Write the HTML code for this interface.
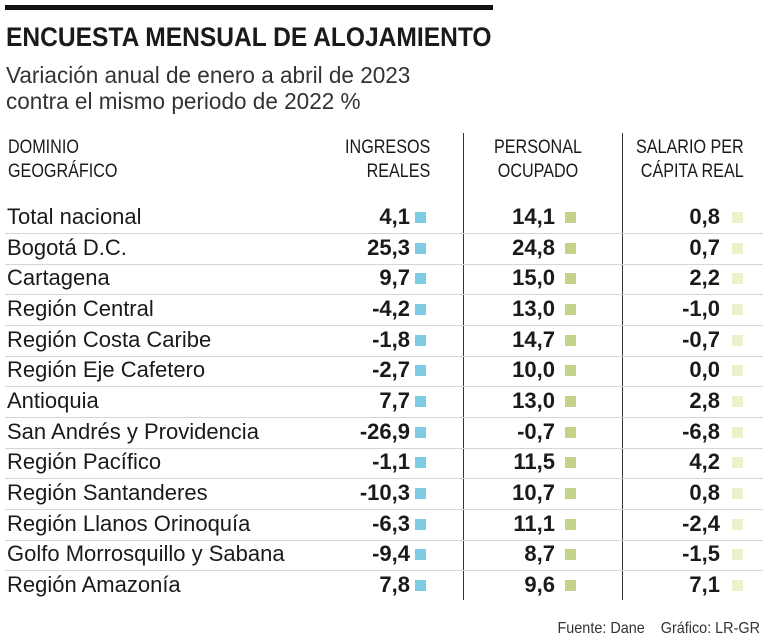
<!DOCTYPE html>
<html><head><meta charset="utf-8"><style>
body{margin:0;width:768px;height:640px;background:#fff;position:relative;overflow:hidden;font-family:"Liberation Sans",sans-serif;color:#1a1a1a}
.a{position:absolute;white-space:nowrap}
.hdr{font-family:"Liberation Sans Narrow","Liberation Sans",sans-serif;font-size:19px;line-height:24px;transform:scaleX(0.85)}
.lbl{font-size:22px;transform:scaleX(1.0);transform-origin:left center;font-weight:300}
.num{font-size:22px;font-weight:bold;text-align:right;width:80px}
.sq{width:11px;height:11px}
.sep{height:1px;background:#d6d6d6}
</style></head><body>
<div class="a" style="left:5px;top:5px;width:488px;height:5px;background:#111"></div>
<div class="a" style="left:6px;top:22px;font-size:27px;font-weight:bold;transform:scaleX(0.91);transform-origin:left">ENCUESTA MENSUAL DE ALOJAMIENTO</div>
<div class="a" style="left:6px;top:62px;font-size:23px;line-height:26px;color:#333;transform:scaleX(0.98);transform-origin:left">Variación anual de enero a abril de 2023<br>contra el mismo periodo de 2022 %</div>
<div class="a hdr" style="left:8px;top:136px;transform-origin:left">DOMINIO<br>GEOGRÁFICO</div>
<div class="a hdr" style="right:338px;top:136px;text-align:right;transform-origin:right">INGRESOS<br>REALES</div>
<div class="a hdr" style="left:478px;top:136px;width:120px;text-align:center;transform-origin:center">PERSONAL<br>OCUPADO</div>
<div class="a hdr" style="right:24px;top:136px;text-align:right;transform-origin:right">SALARIO PER<br>CÁPITA REAL</div>
<div class="a" style="left:463px;top:133px;width:1px;height:467px;background:#333"></div>
<div class="a" style="left:622px;top:133px;width:1px;height:467px;background:#333"></div>
<div id="rows"></div>
<div class="a" style="right:8px;top:620px;font-size:16px;color:#333;transform:scaleX(0.9);transform-origin:right">Fuente: Dane &nbsp;&nbsp; Gráfico: LR-GR</div>
<script>
const regions=["Total nacional","Bogotá D.C.","Cartagena","Región Central","Región Costa Caribe","Región Eje Cafetero","Antioquia","San Andrés y Providencia","Región Pacífico","Región Santanderes","Región Llanos Orinoquía","Golfo Morrosquillo y Sabana","Región Amazonía"];
const ingresos=["4,1","25,3","9,7","-4,2","-1,8","-2,7","7,7","-26,9","-1,1","-10,3","-6,3","-9,4","7,8"];
const personal=["14,1","24,8","15,0","13,0","14,7","10,0","13,0","-0,7","11,5","10,7","11,1","8,7","9,6"];
const salario=["0,8","0,7","2,2","-1,0","-0,7","0,0","2,8","-6,8","4,2","0,8","-2,4","-1,5","7,1"];
const cols=[{v:ingresos,r:410,sq:415,c:"#7ecbe3",n:"ingresos"},{v:personal,r:555,sq:565,c:"#c3d48a",n:"personal"},{v:salario,r:720,sq:732,c:"#eef0cc",n:"salario"}];
const box=document.getElementById('rows');
const y0=217,pitch=30.67;
regions.forEach((r,i)=>{
  const cy=y0+i*pitch;
  const l=document.createElement('div');
  l.className='a lbl';l.textContent=r;l.style.left='7px';l.style.top=(cy-13)+'px';
  
  
  box.appendChild(l);
  cols.forEach(c=>{
    const n=document.createElement('div');
    n.className='a num';n.textContent=c.v[i];n.style.left=(c.r-80)+'px';n.style.top=(cy-13)+'px';
    
    
    box.appendChild(n);
    const s=document.createElement('div');
    s.className='a sq';s.style.left=c.sq+'px';s.style.top=(cy-5)+'px';s.style.background=c.c;
    
    
    box.appendChild(s);
  });
  if(i<regions.length-1){
    const sp=document.createElement('div');
    sp.className='a sep';sp.style.left='5px';sp.style.width='758px';sp.style.top=Math.round(cy+16)+'px';
    
    
    box.appendChild(sp);
  }
});
</script>
</body></html>
